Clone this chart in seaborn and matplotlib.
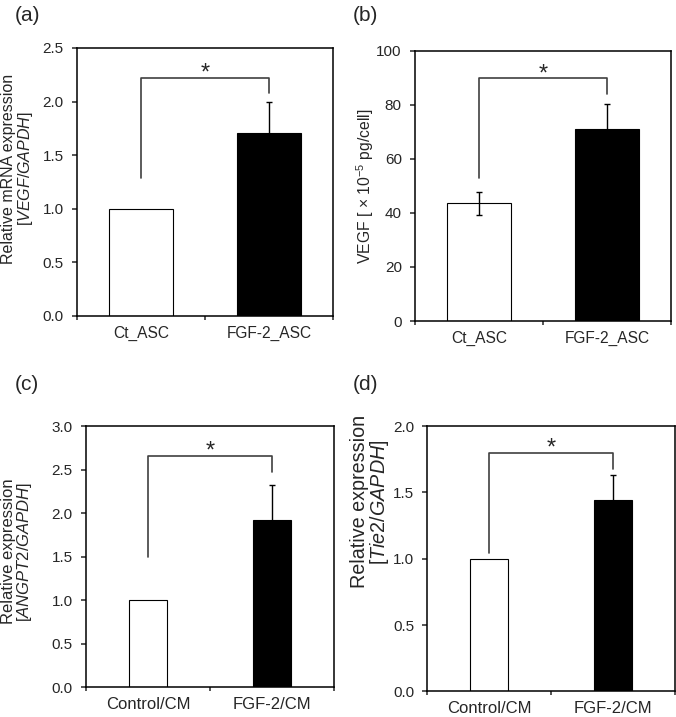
import numpy as np
import pandas as pd
import matplotlib
matplotlib.use("Agg")
import matplotlib.pyplot as plt
import seaborn as sns

# datos
cats_asc = ["Ct_ASC", "FGF-2_ASC"]
cats_cm = ["Control/CM", "FGF-2/CM"]

vegf_mrna = [1.0, 1.71]
vegf_mrna_err = [0.0, 0.29]

vegf_prot = [43.5, 71.2]
vegf_prot_err = [4.4, 9.2]

angpt2 = [1.0, 1.92]
angpt2_err = [0.0, 0.40]

tie2 = [1.0, 1.44]
tie2_err = [0.0, 0.19]

sns.set_style("ticks")
plt.rcParams["font.family"] = ["Liberation Sans", "DejaVu Sans"]
plt.rcParams["mathtext.fontset"] = "custom"
plt.rcParams["mathtext.rm"] = "Liberation Sans"
plt.rcParams["mathtext.it"] = "Liberation Sans:italic"

fig = plt.figure(figsize=(6.76, 7.17), dpi=100)

# posiciones de los ejes (fraccion de figura)
pos = {
    "a": [0.1139, 0.5593, 0.3787, 0.3738],
    "b": [0.6139, 0.5523, 0.3787, 0.3770],
    "c": [0.1272, 0.0418, 0.3673, 0.3636],
    "d": [0.6321, 0.0358, 0.3660, 0.3700],
}

panels = [
    # letra, categorias, valores, errores, ancho, ylim, paso, ylabel, formato, corchete, estrella
    ("a", cats_asc, vegf_mrna, vegf_mrna_err, 0.5, 2.5, 0.5,
     "Relative mRNA expression\n[$\\mathit{VEGF/GAPDH}$]", "{:.1f}", (1.29, 2.22, 2.08), 2.33),
    ("b", cats_asc, vegf_prot, vegf_prot_err, 0.5, 100, 20,
     "VEGF [ \u00d7 10$^{-5}$ pg/cell]", "{:.0f}", (52.8, 89.8, 84.0), 94.1),
    ("c", cats_cm, angpt2, angpt2_err, 0.31, 3.0, 0.5,
     "Relative expression\n[$\\mathit{ANGPT2/GAPDH}$]", "{:.1f}", (1.50, 2.66, 2.48), 2.80),
    ("d", cats_cm, tie2, tie2_err, 0.31, 2.0, 0.5,
     "Relative expression\n[$\\mathit{Tie2/GAPDH}$]", "{:.1f}", (1.04, 1.794, 1.678), 1.885),
]

# estilo por panel: (tamano ylabel, posicion ylabel, tamano categorias)
estilo = {
    "a": (11.5, (-0.166, 0.549), 11.2),
    "b": (11.3, (-0.152, 0.498), 11.2),
    "c": (12.0, (-0.208, 0.52), 12.0),
    "d": (14.2, (-0.146, 0.714), 12.0),
}

label_xy = {"a": (0.022, 0.979), "b": (0.522, 0.979), "c": (0.022, 0.4635), "d": (0.522, 0.4635)}

fs_star = 17

for letra, cats, vals, errs, w, ymax, paso, ylab, fmt, brk, star in panels:
    ax = fig.add_axes(pos[letra])
    df = pd.DataFrame({"grupo": cats, "valor": vals})
    sns.barplot(data=df, x="grupo", y="valor", hue="grupo", palette=["white", "black"],
                edgecolor="black", linewidth=0.8, width=w, legend=False, ax=ax)

    for i in range(2):
        if errs[i] > 0:
            ax.errorbar(i, vals[i], yerr=errs[i], fmt="none", ecolor="black",
                        elinewidth=1.0, capsize=2, capthick=1.0)

    # corchete de significancia
    ax.plot([0, 0, 1, 1], [brk[0], brk[1], brk[1], brk[2]], color="#404040", lw=1.2)
    ax.annotate("*", (0.5, star), xytext=(0, -0.58 * fs_star), textcoords="offset points",
                ha="center", va="baseline", fontsize=fs_star)

    ax.set_xlim(-0.5, 1.5)
    ax.set_ylim(0, ymax)
    ticks = np.arange(0, ymax + paso / 2, paso)
    ax.set_yticks(ticks)
    ax.set_yticklabels([fmt.format(t) for t in ticks], fontsize=11)

    fs_lab, lab_pos, fs_cat = estilo[letra]
    ax.set_xticks([-0.5, 0.5, 1.5])
    ax.set_xticklabels([])
    ax.set_xticks([0, 1], minor=True)
    ax.set_xticklabels(cats, minor=True, fontsize=fs_cat)
    ax.tick_params(axis="x", which="major", direction="out", length=3, width=1.1)
    ax.tick_params(axis="x", which="minor", length=0, pad=7)
    ax.tick_params(axis="y", direction="out", length=3.5, width=1.1, pad=6)

    for s in ax.spines.values():
        s.set_visible(True)
        s.set_color("black")
        s.set_linewidth(1.1)

    ax.set_xlabel("")
    ax.set_ylabel(ylab, fontsize=fs_lab, linespacing=0.95)
    ax.yaxis.set_label_coords(lab_pos[0], lab_pos[1])

    fig.text(label_xy[letra][0], label_xy[letra][1], "(" + letra + ")",
             fontsize=15, va="center", ha="left")

fig.savefig("out.png", dpi=100)
